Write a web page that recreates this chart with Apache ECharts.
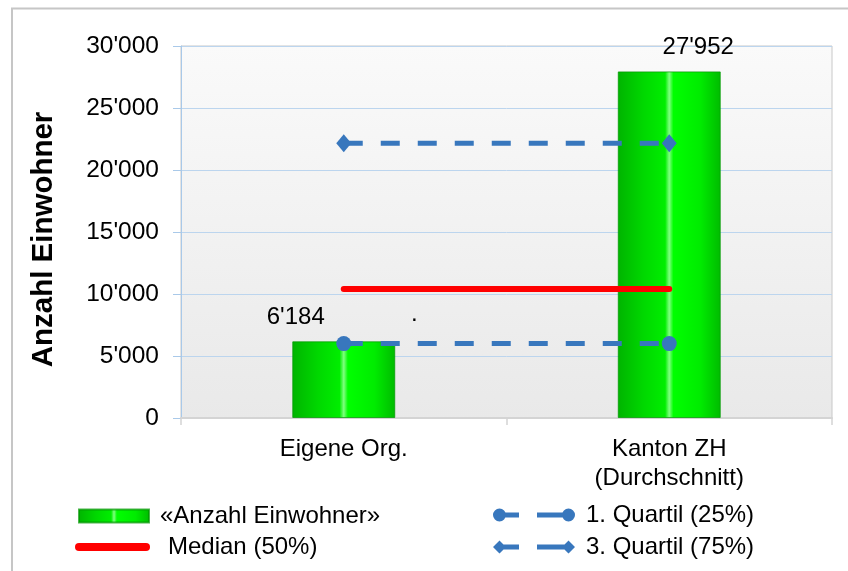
<!DOCTYPE html>
<html>
<head>
<meta charset="utf-8">
<script src="https://cdn.jsdelivr.net/npm/echarts@6/dist/echarts.min.js"></script>
<style>
html,body{margin:0;padding:0;background:#fff;}
#chart{width:848px;height:571px;}
</style>
</head>
<body>
<div id="chart"></div>
<script>
// ---- data ----
var categories = ['Eigene Org.', 'Kanton ZH\n(Durchschnitt)'];
var einwohner = [6184, 27952];
var median = [10400, 10400];
var quartil1 = [6000, 6000];
var quartil3 = [22150, 22150];
var seriesNames = ['«Anzahl Einwohner»', 'Median (50%)', '1. Quartil (25%)', '3. Quartil (75%)'];
var yMin = 0, yMax = 30000, yInterval = 5000;

function fmt(n) {
  return String(Math.round(n)).replace(/\B(?=(\d{3})+(?!\d))/g, "'");
}

var FONT = 'Liberation Sans';
var blue = '#3877bd';
var barGradient = new echarts.graphic.LinearGradient(0, 0, 1, 0, [
  {offset: 0, color: '#00b400'},
  {offset: 0.25, color: '#00d800'},
  {offset: 0.46, color: '#00ee00'},
  {offset: 0.5, color: '#80ff80'},
  {offset: 0.54, color: '#00ff00'},
  {offset: 0.8, color: '#00ec00'},
  {offset: 1, color: '#00bb00'}
]);
var plotBg = new echarts.graphic.LinearGradient(0, 0, 0, 1, [
  {offset: 0, color: '#fafafa'},
  {offset: 1, color: '#e9e9e9'}
]);

var q1Icon = 'path://M0,6.5 A6.5,6.5 0 1,1 13,6.5 A6.5,6.5 0 1,1 0,6.5 Z M8,4 L26,4 L26,9 L8,9 Z M44,4 L74,4 L74,9 L44,9 Z M69,6.5 A6.5,6.5 0 1,1 82,6.5 A6.5,6.5 0 1,1 69,6.5 Z';
var q3Icon = 'path://M0,6.5 L6.5,0 L13,6.5 L6.5,13 Z M8,4 L26,4 L26,9 L8,9 Z M44,4 L74,4 L74,9 L44,9 Z M69,6.5 L75.5,0 L82,6.5 L75.5,13 Z';
var medIcon = 'path://M4,0 L71,0 A4,4 0 0,1 71,8 L4,8 A4,4 0 0,1 4,0 Z';

var legendText = {fontFamily: FONT, fontSize: 24, color: '#000'};

var chart = echarts.init(document.getElementById('chart'), null, {renderer: 'canvas'});
chart.setOption({
  animation: false,
  backgroundColor: '#fff',
  grid: {
    left: 181, right: 16, top: 46, bottom: 153,
    show: true, backgroundColor: plotBg, borderColor: '#c8c8c8', borderWidth: 1
  },
  legend: [
    {data: [{name: seriesNames[0], icon: 'rect'}], left: 78, top: 504, padding: 0,
     itemWidth: 70, itemHeight: 13, selectedMode: false,
     textStyle: Object.assign({padding: [0, 0, 0, 6]}, legendText)},
    {data: [{name: seriesNames[1], icon: medIcon}], left: 75, top: 535, padding: 0,
     itemWidth: 75, itemHeight: 8, selectedMode: false,
     textStyle: Object.assign({padding: [0, 0, 0, 13]}, legendText)},
    {data: [{name: seriesNames[2], icon: q1Icon}], left: 493, top: 503, padding: 0,
     itemWidth: 82, itemHeight: 13, selectedMode: false,
     textStyle: Object.assign({padding: [0, 0, 0, 6]}, legendText)},
    {data: [{name: seriesNames[3], icon: q3Icon}], left: 493, top: 535, padding: 0,
     itemWidth: 82, itemHeight: 13, selectedMode: false,
     textStyle: Object.assign({padding: [0, 0, 0, 6]}, legendText)}
  ],
  xAxis: {
    type: 'category',
    data: categories,
    boundaryGap: true,
    axisLine: {show: true, lineStyle: {color: '#d4d4d4', width: 2}},
    axisTick: {show: true, length: 7, lineStyle: {color: '#d4d4d4', width: 1.5}},
    axisLabel: {fontFamily: FONT, fontSize: 24, color: '#000', margin: 17, lineHeight: 29},
    splitLine: {show: false}
  },
  yAxis: {
    type: 'value',
    min: yMin, max: yMax, interval: yInterval,
    name: 'Anzahl Einwohner',
    nameLocation: 'middle',
    nameGap: 122,
    nameTextStyle: {fontFamily: FONT, fontSize: 29.5, fontWeight: 'bold', color: '#000', padding: [0, 15, 0, 0]},
    axisLine: {show: true, lineStyle: {color: '#a9c9e9', width: 1}},
    axisTick: {show: true, length: 8, lineStyle: {color: '#a9c9e9'}},
    axisLabel: {fontFamily: FONT, fontSize: 24.5, color: '#000', margin: 22, formatter: fmt},
    splitLine: {show: true, lineStyle: {color: '#bcd5ee', width: 1}}
  },
  series: [
    {
      name: seriesNames[0], type: 'bar', barWidth: 103, z: 2,
      itemStyle: {color: barGradient, borderColor: 'rgba(0,150,0,0.7)', borderWidth: 1},
      label: {show: true, position: 'top', distance: 12, fontFamily: FONT, fontSize: 24, color: '#000',
              formatter: function (p) { return fmt(p.value); }},
      data: einwohner.map(function (v, i) {
        return {value: v, label: {offset: [i === 0 ? -48 : 29, 0]}};
      })
    },
    {
      name: seriesNames[1], type: 'line', z: 4, symbol: 'none',
      itemStyle: {color: '#ff0000'},
      lineStyle: {color: '#ff0000', width: 6, cap: 'round'},
      data: median
    },
    {
      name: seriesNames[2], type: 'line', z: 5, symbol: 'circle', symbolSize: 15,
      itemStyle: {color: blue},
      lineStyle: {color: blue, width: 5, type: [19, 18], cap: 'butt'},
      data: quartil1
    },
    {
      name: seriesNames[3], type: 'line', z: 5, symbol: 'diamond', symbolSize: [15, 18],
      itemStyle: {color: blue},
      lineStyle: {color: blue, width: 5, type: [19, 18], cap: 'butt'},
      data: quartil3
    }
  ],
  graphic: [
    {type: 'rect', z: 100, silent: true,
     shape: {x: 12, y: 8.5, width: 900, height: 700},
     style: {fill: 'none', stroke: '#c6c6c6', lineWidth: 2}},
    {type: 'text', left: 411, top: 302, silent: true,
     style: {text: '.', fontFamily: FONT, fontSize: 24, fill: '#000'}}
  ]
});
</script>
</body>
</html>
